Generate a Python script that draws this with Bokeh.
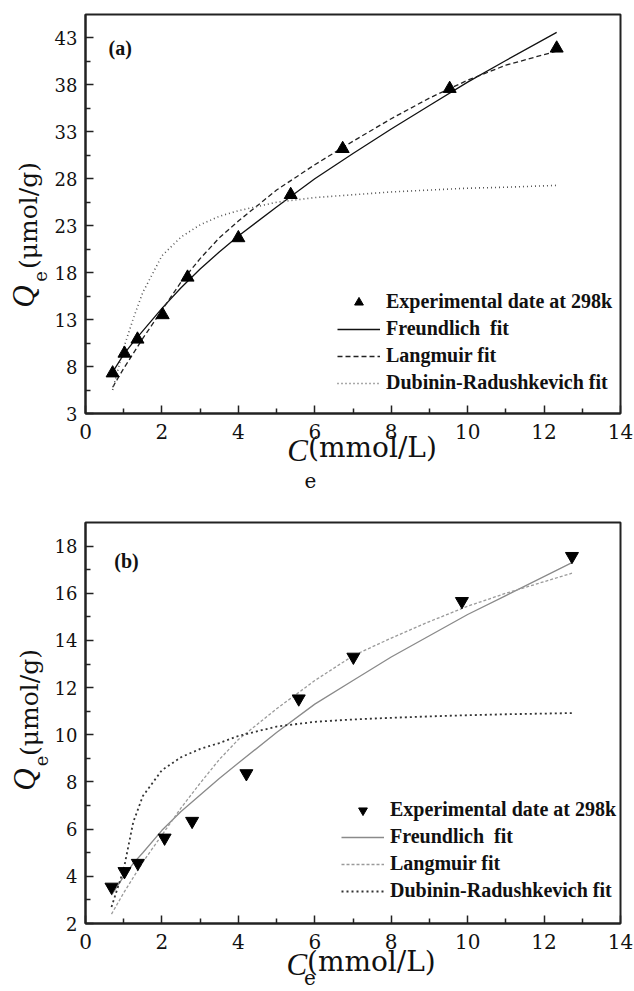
from bokeh.plotting import figure
from bokeh.layouts import column
from bokeh.models import (Range1d, FixedTicker, Label, Legend, LegendItem,
                          LinearAxis)
from bokeh.embed import file_html
from bokeh.resources import INLINE

SERIF = "DejaVu Serif"          # upright text
TIMES = "Liberation Serif"      # bold and italic text

# ---------------- panel (a) data ----------------
ce_a = [0.71, 1.02, 1.36, 2.02, 2.67, 4.00, 5.37, 6.73, 9.53, 12.33]
qe_a = [7.3, 9.4, 10.9, 13.5, 17.5, 21.7, 26.3, 31.2, 37.6, 41.9]

fit_c_a = [0.71, 1.0, 1.25, 1.5, 2.0, 2.5, 3.0, 3.5, 4.0, 5.0, 6.0, 7.0, 8.0, 9.0, 10.0, 11.0, 12.33]
freundlich_a = [7.4, 9.3, 10.6, 11.8, 14.2, 16.4, 18.4, 20.2, 21.9, 25.0, 28.0, 30.7, 33.3, 35.8, 38.3, 40.6, 43.6]
langmuir_a = [5.8, 7.8, 9.4, 11.0, 14.0, 17.0, 19.5, 21.7, 23.5, 26.8, 29.5, 32.0, 34.4, 36.6, 38.5, 40.1, 41.6]
dr_a = [5.5, 10.0, 13.1, 15.9, 19.8, 21.8, 23.1, 24.0, 24.6, 25.5, 26.0, 26.3, 26.6, 26.8, 27.0, 27.1, 27.3]

y_ticks_a = [3, 8, 13, 18, 23, 28, 33, 38, 43]

# ---------------- panel (b) data ----------------
ce_b = [0.68, 1.02, 1.37, 2.07, 2.79, 4.21, 5.58, 7.01, 9.85, 12.73]
qe_b = [3.55, 4.21, 4.56, 5.63, 6.34, 8.36, 11.53, 13.3, 15.66, 17.57]

fit_c_b = [0.68, 1.0, 1.25, 1.5, 2.0, 2.5, 3.0, 3.5, 4.0, 5.0, 6.0, 7.0, 8.0, 9.0, 10.0, 11.0, 12.73]
freundlich_b = [3.2, 4.0, 4.55, 5.0, 5.95, 6.75, 7.45, 8.15, 8.8, 10.1, 11.3, 12.3, 13.3, 14.2, 15.1, 15.9, 17.3]
langmuir_b = [2.4, 3.3, 3.95, 4.6, 5.75, 6.9, 7.95, 8.95, 9.8, 11.1, 12.3, 13.35, 14.1, 14.8, 15.45, 16.0, 16.85]
dr_b = [2.7, 4.3, 6.3, 7.4, 8.5, 9.05, 9.4, 9.65, 9.95, 10.35, 10.55, 10.65, 10.72, 10.78, 10.83, 10.87, 10.92]

y_ticks_b = [2, 4, 6, 8, 10, 12, 14, 16, 18]

x_ticks = [0, 2, 4, 6, 8, 10, 12, 14]

legend_names = ["Experimental date at 298k", "Freundlich  fit", "Langmuir fit",
                "Dubinin-Radushkevich fit"]


def make_panel(height, borders, y_lo, y_hi, y_ticks, y_minor):
    left, right, top, bottom = borders
    p = figure(width=634, height=height, x_range=Range1d(0, 14),
               y_range=Range1d(y_lo, y_hi), output_backend="svg",
               toolbar_location=None, min_border_left=left,
               min_border_right=right, min_border_top=top,
               min_border_bottom=bottom)
    p.grid.visible = False
    p.background_fill_color = "white"
    p.border_fill_color = "white"
    p.outline_line_color = "#222222"
    p.outline_line_width = 2
    p.xaxis.ticker = FixedTicker(ticks=x_ticks, minor_ticks=[1, 3, 5, 7, 9, 11, 13])
    p.yaxis.ticker = FixedTicker(ticks=y_ticks, minor_ticks=y_minor)
    for ax in (p.xaxis, p.yaxis):
        ax.axis_line_color = "#222222"
        ax.axis_line_width = 2
        ax.major_tick_in = 8
        ax.major_tick_out = 0
        ax.minor_tick_in = 5
        ax.minor_tick_out = 0
        ax.major_tick_line_color = "#222222"
        ax.minor_tick_line_color = "#222222"
        ax.major_tick_line_width = 1.5
        ax.minor_tick_line_width = 1.5
        ax.major_label_text_color = "#111111"
        ax.major_label_text_font = SERIF
    p.xaxis.major_label_text_font_size = "20px"
    p.xaxis.major_label_standoff = 10
    p.yaxis.major_label_text_font_size = "18px"
    p.yaxis.major_label_standoff = 8
    return p


def title_piece(p, side, centre_at, text, font, size, standoff, style="normal"):
    """One piece of an axis title: the single tick label of a bare extra axis,
    stacked outward from the frame; the standoff sets its distance."""
    ax = LinearAxis()
    ax.ticker = FixedTicker(ticks=[centre_at], minor_ticks=[])
    ax.major_label_overrides = {centre_at: text}
    ax.major_label_text_font = font
    ax.major_label_text_font_size = size
    ax.major_label_text_font_style = style
    ax.major_label_text_color = "#111111"
    ax.major_label_standoff = standoff
    ax.axis_line_color = None
    ax.major_tick_line_color = None
    ax.minor_tick_line_color = None
    ax.major_tick_in = 0
    ax.major_tick_out = 0
    ax.minor_tick_in = 0
    ax.minor_tick_out = 0
    if side == "left":
        ax.major_label_orientation = "parallel"
    p.add_layout(ax, side)


def frame_mapper(left, right, top, bottom, x0, x1, y0, y1, page_top):
    # converts a page pixel position into the panel's data coordinates
    def to_x(sx):
        return x0 + (sx - left) / (right - left) * (x1 - x0)

    def to_y(sy):
        return y0 + (bottom - (sy - page_top)) / (bottom - top) * (y1 - y0)
    return to_x, to_y


def axis_titles(p, to_x, to_y, x_offs, y_centres, y_offs):
    s_unit, s_c, s_sub = x_offs
    # x axis: C_e(mmol/L)
    title_piece(p, "below", to_x(372), "(mmol/L)", SERIF, "28px", s_unit)
    title_piece(p, "below", to_x(297), "C", TIMES, "31px", s_c, "italic")
    title_piece(p, "below", to_x(310), "e", SERIF, "20px", s_sub)
    # y axis: Q_e(μmol/g), reading bottom to top
    y_sub, y_unit, y_q = y_centres
    e_off, unit_off, q_off = y_offs
    title_piece(p, "left", to_y(y_sub), "e", SERIF, "18px", e_off)
    title_piece(p, "left", to_y(y_unit), "(\u03bcmol/g)", SERIF, "25px", unit_off)
    title_piece(p, "left", to_y(y_q), "Q", TIMES, "31px", q_off, "italic")


def build_legend(p, renderers, loc):
    items = [LegendItem(label=n, renderers=[r]) for n, r in zip(legend_names, renderers)]
    lg = Legend(items=items, location=loc, padding=0, margin=0, spacing=4,
                glyph_width=43, glyph_height=22, label_height=22, label_standoff=6,
                label_text_font=TIMES, label_text_font_style="bold",
                label_text_font_size="20px", label_text_color="#111111",
                label_text_baseline="middle",
                border_line_alpha=0, background_fill_alpha=0)
    p.add_layout(lg, "center")


def panel_tag(p, x, y, text):
    p.add_layout(Label(x=x, y=y, text=text, text_font=TIMES, text_font_size="20px",
                       text_font_style="bold", text_baseline="middle",
                       text_color="#111111"))


# ---------------- panel (a) ----------------
pa = make_panel(495, (85, 14, 14, 82), 3, 45.5, y_ticks_a,
                [5.5, 10.5, 15.5, 20.5, 25.5, 30.5, 35.5, 40.5])
ax_a, ay_a = frame_mapper(85, 620, 14, 413, 0, 14, 3, 45.5, 0)

ra_f = pa.line(fit_c_a, freundlich_a, line_color="#111111", line_width=1.3)
ra_l = pa.line(fit_c_a, langmuir_a, line_color="#222222", line_width=1.3,
               line_dash="5 3")
ra_d = pa.line(fit_c_a, dr_a, line_color="#555555", line_width=1.6,
               line_dash="1 3")
ra_p = pa.scatter(ce_a, qe_a, marker="triangle", size=13, fill_color="black",
                  line_color="black")
build_legend(pa, [ra_p, ra_f, ra_l, ra_d], (252, 19))
panel_tag(pa, ax_a(108), ay_a(47), "(a)")
axis_titles(pa, ax_a, ay_a, x_offs=(-11, -34, 2),
            y_centres=(276, 215, 296), y_offs=(5, -13, -30))

# ---------------- panel (b) ----------------
pb = make_panel(496, (84, 11, 27, 68), 2, 19, y_ticks_b,
                [3, 5, 7, 9, 11, 13, 15, 17])
ax_b, ay_b = frame_mapper(84, 623, 522 - 495, 923 - 495, 0, 14, 2, 19, 495)

rb_f = pb.line(fit_c_b, freundlich_b, line_color="#8a8a8a", line_width=1.3)
rb_l = pb.line(fit_c_b, langmuir_b, line_color="#9a9a9a", line_width=1.3,
               line_dash="3 2")
rb_d = pb.line(fit_c_b, dr_b, line_color="#333333", line_width=1.8,
               line_dash="2 3")
rb_p = pb.scatter(ce_b, qe_b, marker="inverted_triangle", size=13,
                  fill_color="black", line_color="black")
build_legend(pb, [rb_p, rb_f, rb_l, rb_d], (256, 21))
panel_tag(pb, ax_b(113), ay_b(560), "(b)")
axis_titles(pb, ax_b, ay_b, x_offs=(-7, -34, -15),
            y_centres=(760.5, 702, 779), y_offs=(4, -13, -30))

layout = column(pa, pb)
open("out.html", "w").write(file_html(layout, INLINE))
